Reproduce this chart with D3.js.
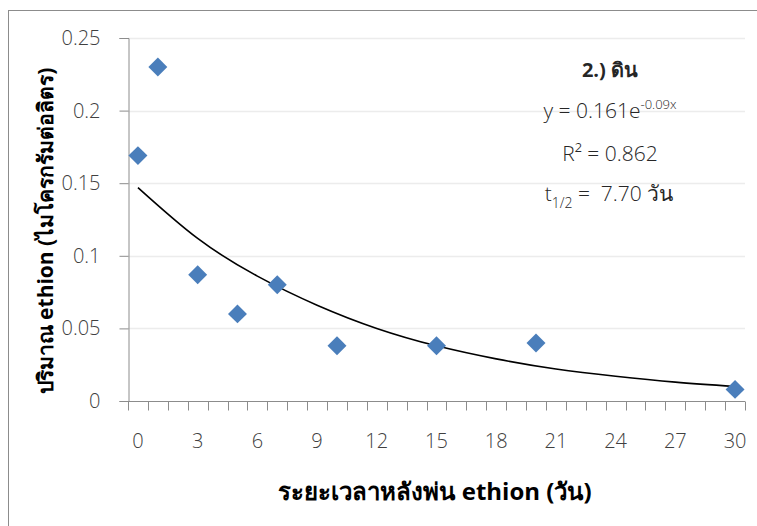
<!DOCTYPE html>
<html>
<head>
<meta charset="utf-8">
<script src="https://cdn.jsdelivr.net/npm/d3@7"></script>
<style>
  body { margin: 0; background: #fff; }
  svg { display: block; font-family: "Open Sans", "Noto Sans", sans-serif; }
  .lt { font-weight: 300; }
</style>
</head>
<body>
<svg width="757" height="526"></svg>
<script>
// Days after spraying (category axis 0..30)
var days = d3.range(0, 31);
var xTickLabels = [0, 3, 6, 9, 12, 15, 18, 21, 24, 27, 30];
var yTickValues = [0, 0.05, 0.1, 0.15, 0.2, 0.25];

// Measured ethion amounts
var sampleDays = [0, 1, 3, 5, 7, 10, 15, 20, 30];
var sampleValues = [0.169, 0.230, 0.087, 0.060, 0.080, 0.038, 0.038, 0.040, 0.008];

// Trend line
var trendDays = [0, 3, 6, 9, 12, 15, 18, 21, 24, 27, 30];
var trendValues = [0.147, 0.112, 0.086, 0.066, 0.050, 0.038, 0.029, 0.022, 0.017, 0.013, 0.010];

var svg = d3.select('svg');

// outer chart border
svg.append('rect')
    .attr('x', 8.5).attr('y', 10.5)
    .attr('width', 760).attr('height', 530)
    .attr('fill', 'none')
    .attr('stroke', '#8c8c8c')
    .attr('stroke-width', 1);

var plot = {l: 128, r: 745, t: 38, b: 401};

var xScale = d3.scaleBand()
    .domain(days)
    .range([plot.l, plot.r]);

var yScale = d3.scaleLinear()
    .domain([0, 0.25])
    .range([plot.b, plot.t]);

var xPos = function(d) { return xScale(d) + xScale.bandwidth() / 2; };

// gridlines
svg.append('g')
    .selectAll('line')
    .data(yTickValues.slice(1))
    .enter()
    .append('line')
    .attr('x1', plot.l).attr('x2', plot.r)
    .attr('y1', function(d) { return Math.round(yScale(d)) + 0.5; })
    .attr('y2', function(d) { return Math.round(yScale(d)) + 0.5; })
    .attr('stroke', '#ececec')
    .attr('stroke-width', 1.5);

// y axis
var yAxisG = svg.append('g')
    .attr('transform', 'translate(' + [plot.l + 0.5, 0] + ')')
    .call(d3.axisLeft(yScale)
        .tickValues(yTickValues)
        .tickSize(9)
        .tickPadding(19)
        .tickFormat(function(d) { return d === 0 ? '0' : String(d); }));

// x axis: tick marks at every category boundary
var xAxisG = svg.append('g')
    .attr('transform', 'translate(' + [0, Math.round(plot.b) + 0.5] + ')');
xAxisG.append('line')
    .attr('x1', plot.l).attr('x2', plot.r)
    .attr('stroke', '#8c8c8c');
xAxisG.selectAll('.tk')
    .data(days.concat([31]))
    .enter()
    .append('line')
    .attr('class', 'tk')
    .attr('x1', function(d, i) { return Math.round(plot.l + i * xScale.bandwidth()) + 0.5; })
    .attr('x2', function(d, i) { return Math.round(plot.l + i * xScale.bandwidth()) + 0.5; })
    .attr('y1', 0).attr('y2', 9)
    .attr('stroke', '#8c8c8c');
xAxisG.selectAll('.lbl')
    .data(xTickLabels)
    .enter()
    .append('text')
    .attr('class', 'lbl lt')
    .attr('x', function(d) { return xPos(d); })
    .attr('y', 46)
    .attr('text-anchor', 'middle')
    .attr('font-size', 20)
    .attr('fill', '#404040')
    .text(function(d) { return d; });

yAxisG.select('.domain').attr('stroke', '#8c8c8c');
yAxisG.selectAll('.tick line').attr('stroke', '#8c8c8c');
yAxisG.selectAll('.tick text')
    .attr('class', 'lt')
    .attr('font-size', 20)
    .attr('fill', '#404040')
    .attr('font-family', '"Open Sans", sans-serif');

// trend line
var trendLine = d3.line()
    .x(function(d, i) { return xPos(trendDays[i]); })
    .y(function(d) { return yScale(d); })
    .curve(d3.curveNatural);

svg.append('path')
    .datum(trendValues)
    .attr('d', trendLine)
    .attr('fill', 'none')
    .attr('stroke', '#000')
    .attr('stroke-width', 1.6);

// diamonds
svg.append('g')
    .selectAll('path')
    .data(sampleValues)
    .enter()
    .append('path')
    .attr('d', d3.symbol().type(d3.symbolSquare).size(180))
    .attr('transform', function(d, i) {
        return 'translate(' + [xPos(sampleDays[i]), yScale(d)] + ') rotate(45)';
    })
    .attr('fill', '#4a7ebb');

// axis titles
svg.append('text')
    .attr('x', 435).attr('y', 500)
    .attr('text-anchor', 'middle')
    .attr('font-size', 24)
    .attr('font-weight', 'bold')
    .attr('fill', '#000')
    .text('ระยะเวลาหลังพ่น ethion (วัน)');

svg.append('text')
    .attr('transform', 'translate(53,231) rotate(-90)')
    .attr('text-anchor', 'middle')
    .attr('font-size', 21)
    .attr('font-weight', 'bold')
    .attr('fill', '#000')
    .text('ปริมาณ ethion (ไมโครกรัมต่อลิตร)');

// annotation
var note = svg.append('g').attr('fill', '#262626').attr('text-anchor', 'middle');
note.append('text')
    .attr('x', 610).attr('y', 77)
    .attr('font-size', 20)
    .attr('font-weight', 'bold')
    .text('2.) ดิน');

var eq = note.append('text').attr('class', 'lt').attr('x', 610).attr('y', 118).attr('font-size', 21);
eq.append('tspan').text('y = 0.161e');
eq.append('tspan').attr('dy', -9).attr('font-size', 13).text('-0.09x');

note.append('text')
    .attr('class', 'lt')
    .attr('x', 610).attr('y', 161)
    .attr('font-size', 21)
    .text('R² = 0.862');

var th = note.append('text').attr('class', 'lt').attr('x', 609).attr('y', 201).attr('font-size', 21);
th.append('tspan').text('t');
th.append('tspan').attr('dy', 7).attr('font-size', 14).text('1/2');
th.append('tspan').attr('dy', -7).text('\u00a0=\u00a0\u00a07.70 ');
th.append('tspan').attr('font-weight', 400).attr('font-family', '"Noto Sans", sans-serif').text('วัน');
</script>
</body>
</html>
